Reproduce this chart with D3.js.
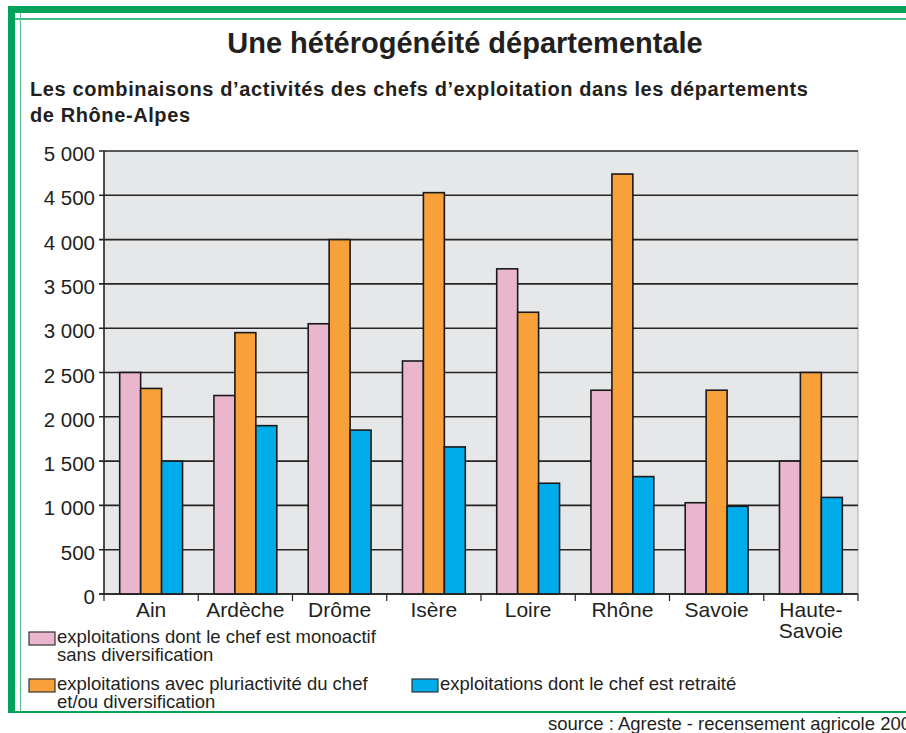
<!DOCTYPE html>
<meta charset="utf-8">
<style>
body { margin: 0; background: #fff; }
svg { font-family: "Liberation Sans", Arial, sans-serif; }
.title { font-size: 29px; font-weight: bold; fill: #231f20; }
.subtitle { font-size: 20px; font-weight: bold; fill: #231f20; letter-spacing: 0.6px; }
.ylab, .xlab { fill: #231f20; }
.ylab { font-size: 20.5px; }
.xlab { font-size: 21px; }
.leg { font-size: 18.5px; fill: #231f20; }
.grid line { stroke: #242424; stroke-width: 1.6; }
.bar { stroke: #1a1a1a; stroke-width: 1.6; }
</style>
<body>
<svg width="906" height="733"></svg>
</body>
<script src="https://cdn.jsdelivr.net/npm/d3@7"></script>
<script>

var departements = ["Ain", "Ardèche", "Drôme", "Isère", "Loire", "Rhône", "Savoie", "Haute-Savoie"];
var series = ["mono", "pluri", "retraite"];
var monoactif  = [2500, 2240, 3050, 2630, 3670, 2300, 1030, 1500];
var pluriactif = [2320, 2950, 4000, 4530, 3180, 4740, 2300, 2500];
var retraite   = [1500, 1900, 1850, 1660, 1250, 1325, 990, 1090];
var yTicks = [0, 500, 1000, 1500, 2000, 2500, 3000, 3500, 4000, 4500, 5000];
var legendLabels = [
  ["exploitations dont le chef est monoactif", "sans diversification"],
  ["exploitations avec pluriactivité du chef", "et/ou diversification"],
  ["exploitations dont le chef est retraité"]
];
var colors = ["#eab6cd", "#f8a13a", "#00adea"];

var svg = d3.select("svg");
var green = "#00a35a";

// cadre vert
svg.append("rect").attr("x", 8).attr("y", 6).attr("width", 900).attr("height", 7).attr("fill", green);
svg.append("rect").attr("x", 8).attr("y", 6).attr("width", 7).attr("height", 707).attr("fill", green);
svg.append("line").attr("x1", 15).attr("x2", 906).attr("y1", 19).attr("y2", 19)
    .attr("stroke", green).attr("stroke-width", 1.5);
svg.append("line").attr("x1", 20.5).attr("x2", 20.5).attr("y1", 13).attr("y2", 712)
    .attr("stroke", "#5cbf8f").attr("stroke-width", 1.2);
svg.append("line").attr("x1", 8).attr("x2", 906).attr("y1", 712).attr("y2", 712)
    .attr("stroke", green).attr("stroke-width", 2);

svg.append("text").attr("class", "title").attr("x", 465).attr("y", 53)
    .attr("text-anchor", "middle").text("Une hétérogénéité départementale");
svg.append("text").attr("class", "subtitle").attr("x", 30).attr("y", 96)
    .text("Les combinaisons d’activités des chefs d’exploitation dans les départements");
svg.append("text").attr("class", "subtitle").attr("x", 30).attr("y", 122)
    .text("de Rhône-Alpes");

var x0 = d3.scaleBand().domain(departements).range([104, 858]).padding(0);
var x1 = d3.scaleBand().domain(series).range([0, x0.bandwidth()]).paddingInner(0).paddingOuter(0.75);
var y = d3.scaleLinear().domain([0, 5000]).range([594, 151]);

// fond
svg.append("rect").attr("x", 104).attr("y", 151).attr("width", 754).attr("height", 443).attr("fill", "#e6e7e9");
svg.append("line").attr("x1", 858).attr("x2", 858).attr("y1", 151).attr("y2", 594)
    .attr("stroke", "#b8b8b8").attr("stroke-width", 1.2);

// grille
svg.append("g").attr("class", "grid")
  .selectAll("line").data(yTicks).enter().append("line")
    .attr("x1", 99).attr("x2", 858)
    .attr("y1", function(d) { return y(d); })
    .attr("y2", function(d) { return y(d); });

svg.append("line").attr("x1", 104).attr("x2", 104).attr("y1", 151).attr("y2", 594)
    .attr("stroke", "#242424").attr("stroke-width", 1.6);

svg.selectAll(".ylab").data(yTicks).enter().append("text")
    .attr("class", "ylab")
    .attr("x", 95)
    .attr("y", function(d) { return y(d) + 10; })
    .attr("text-anchor", "end")
    .text(function(d) { return d3.format(",")(d).replace(",", "\u00a0"); });

// barres
var values = [monoactif, pluriactif, retraite];
var groups = svg.append("g").selectAll("g").data(departements).enter().append("g")
    .attr("transform", function(d) { return "translate(" + x0(d) + ",0)"; });

groups.selectAll("rect")
  .data(function(d, i) { return series.map(function(s, j) { return { s: s, j: j, v: values[j][i] }; }); })
  .enter().append("rect")
    .attr("class", "bar")
    .attr("x", function(d) { return x1(d.s); })
    .attr("width", x1.bandwidth())
    .attr("y", function(d) { return y(d.v); })
    .attr("height", function(d) { return y(0) - y(d.v); })
    .attr("fill", function(d) { return colors[d.j]; });

// axe x
svg.append("line").attr("x1", 99).attr("x2", 858).attr("y1", 594).attr("y2", 594)
    .attr("stroke", "#242424").attr("stroke-width", 1.6);
svg.selectAll(".xtick").data(departements.concat([null])).enter().append("line")
    .attr("class", "xtick")
    .attr("x1", function(d, i) { return 104 + i * x0.step(); })
    .attr("x2", function(d, i) { return 104 + i * x0.step(); })
    .attr("y1", 594).attr("y2", 601)
    .attr("stroke", "#242424").attr("stroke-width", 1.2);

svg.selectAll(".xlab").data(departements).enter().append("text")
    .attr("class", "xlab")
    .attr("x", function(d) { return x0(d) + x0.bandwidth() / 2; })
    .attr("y", 617)
    .attr("text-anchor", "middle")
    .each(function(d) {
      var parts = d.indexOf("-") > 0 ? [d.split("-")[0] + "-", d.split("-")[1]] : [d];
      var t = d3.select(this);
      parts.forEach(function(p, k) {
        t.append("tspan").attr("x", x0(d) + x0.bandwidth() / 2).attr("dy", k ? 21 : 0).text(p);
      });
    });

// légende
var legPos = [[29, 632], [29, 679], [412, 679]];
legendLabels.forEach(function(lines, i) {
  var g = svg.append("g").attr("transform", "translate(" + legPos[i][0] + "," + legPos[i][1] + ")");
  g.append("rect").attr("width", 26).attr("height", 13)
    .attr("fill", colors[i]).attr("stroke", "#333").attr("stroke-width", 1.2);
  var t = g.append("text").attr("class", "leg").attr("y", 11);
  lines.forEach(function(l, k) {
    t.append("tspan").attr("x", 28).attr("dy", k ? 18 : 0).text(l);
  });
});

svg.append("text").attr("class", "leg").attr("x", 548).attr("y", 730)
    .text("source : Agreste - recensement agricole 2000");

</script>
